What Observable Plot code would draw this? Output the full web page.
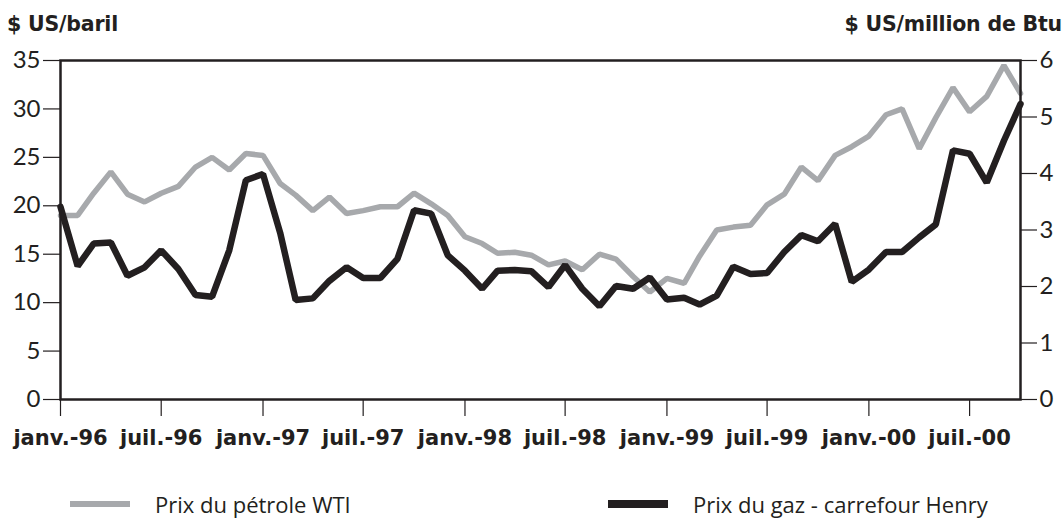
<!DOCTYPE html>
<html><head><meta charset="utf-8">
<script src="https://cdn.jsdelivr.net/npm/d3@7"></script>
<script src="https://cdn.jsdelivr.net/npm/@observablehq/plot@0.6"></script>
<style>
body{margin:0;background:#fff;}
#wrap{position:relative;width:1064px;height:523px;font-family:Lato, "Open Sans", sans-serif;color:#231f20;overflow:hidden;}
#wrap svg{position:absolute;left:0;top:0;}
.title{position:absolute;top:12px;font-family:"DejaVu Sans", sans-serif;font-weight:bold;font-size:20.5px;white-space:nowrap;letter-spacing:-0.2px;}
.leg{position:absolute;top:491px;height:26px;line-height:26px;font-family:"Open Sans", sans-serif;font-size:22px;white-space:nowrap;display:flex;align-items:center;}
.sw{display:inline-block;width:60px;margin-right:25px;}
</style></head><body>
<div id="wrap"></div>
<script>
// Monthly series, janv.-96 .. oct.-00
const wti = [19.0,19.0,21.3,23.5,21.2,20.4,21.3,22.0,24.0,25.0,23.7,25.4,
  25.2,22.3,21.1,19.5,20.9,19.2,19.5,19.9,19.9,21.3,20.2,19.0,
  16.8,16.1,15.1,15.2,14.9,13.9,14.3,13.4,15.0,14.5,12.7,11.1,
  12.5,12.0,14.8,17.5,17.8,18.0,20.1,21.2,24.0,22.6,25.2,26.1,
  27.2,29.4,30.0,25.9,29.1,32.2,29.7,31.3,34.5,31.6];
const gas = [3.41,2.36,2.76,2.78,2.19,2.34,2.64,2.31,1.85,1.82,2.64,3.88,
  3.99,2.95,1.76,1.79,2.10,2.34,2.15,2.15,2.49,3.35,3.29,2.55,
  2.28,1.96,2.28,2.29,2.27,1.99,2.38,1.96,1.65,2.01,1.96,2.16,
  1.77,1.80,1.68,1.84,2.35,2.22,2.24,2.61,2.91,2.80,3.11,2.08,
  2.30,2.61,2.61,2.87,3.10,4.41,4.35,3.84,4.58,5.23];
const xTickLabels = ["janv.-96","juil.-96","janv.-97","juil.-97","janv.-98","juil.-98","janv.-99","juil.-99","janv.-00","juil.-00"];
const leftTicks = [0,5,10,15,20,25,30,35];
const rightTicks = [0,1,2,3,4,5,6];
const seriesNames = ["Prix du pétrole WTI","Prix du gaz - carrefour Henry"];
const axisTitles = ["$ US/baril","$ US/million de Btu"];

const startYear = 1996;
const monthDate = i => new Date(Date.UTC(startYear, i, 1));
const data = wti.map((w, i) => ({date: monthDate(i), wti: w, gas: gas[i]}));
const tickDates = xTickLabels.map((_, k) => monthDate(k * 6));
const labelOf = new Map(tickDates.map((d, k) => [+d, xTickLabels[k]]));
const ratio = 35 / 6;
const GRAY = "#a7a9ac", BLACK = "#231f20";

const chart = Plot.plot({
  width: 1064, height: 523,
  marginLeft: 60, marginRight: 44, marginTop: 60, marginBottom: 124,
  style: {fontFamily: "Lato, 'Open Sans', sans-serif", color: BLACK, background: "transparent"},
  x: {type: "utc", domain: [monthDate(0), monthDate(wti.length - 1)]},
  y: {domain: [0, 35]},
  marks: [
    Plot.line(data, {x: "date", y: "wti", stroke: GRAY, strokeWidth: 5.5, strokeLinejoin: "miter"}),
    Plot.line(data, {x: "date", y: d => d.gas * ratio, stroke: BLACK, strokeWidth: 6.5, strokeLinejoin: "miter"}),
    Plot.frame({stroke: BLACK, strokeWidth: 2.5}),
    Plot.axisY(leftTicks, {anchor: "left", tickSize: 17, tickPadding: 3, fontSize: 24, stroke: BLACK, strokeWidth: 1.2, label: null}),
    Plot.axisY(rightTicks.map(v => v * ratio), {anchor: "right", tickSize: 16, tickPadding: 3, fontSize: 24, stroke: BLACK, strokeWidth: 1.2,
      tickFormat: d => String(Math.round(d / ratio)), label: null}),
    Plot.axisX(tickDates, {anchor: "bottom", tickSize: 17, tickPadding: 14, fontSize: 21, fontWeight: "bold",
      fontFamily: "'DejaVu Sans', sans-serif", stroke: BLACK, strokeWidth: 1.2,
      tickFormat: d => labelOf.get(+d), label: null})
  ]
});
const wrap = document.getElementById("wrap");
wrap.appendChild(chart);

function addDiv(cls, html, css) {
  const el = document.createElement("div");
  el.className = cls; el.innerHTML = html; Object.assign(el.style, css);
  wrap.appendChild(el); return el;
}
addDiv("title", axisTitles[0], {left: "7px"});
addDiv("title", axisTitles[1], {right: "2px"});
addDiv("leg", `<span class="sw" style="height:6px;background:${GRAY}"></span>${seriesNames[0]}`, {left: "70px"});
addDiv("leg", `<span class="sw" style="height:8px;background:${BLACK}"></span>${seriesNames[1]}`, {left: "608px"});
</script>
</body></html>
